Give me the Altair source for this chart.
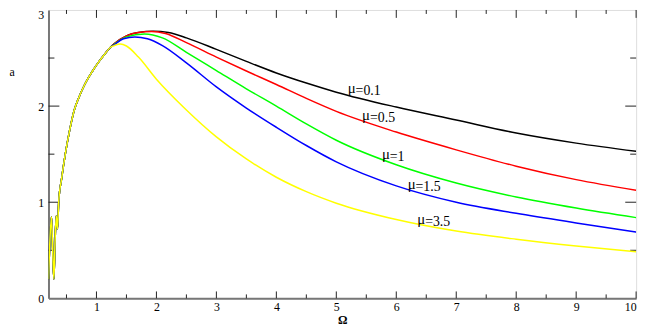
import altair as alt
import pandas as pd

# ---- data ----
rise_x = [0.20, 0.22, 0.25, 0.27, 0.29, 0.31, 0.33, 0.35, 0.37, 0.42, 0.48, 0.55, 0.63, 0.70, 0.80, 0.93, 1.05, 1.15, 1.23]
rise_y = [0.20, 0.55, 0.85, 0.50, 0.20, 0.60, 0.86, 0.72, 1.00, 1.25, 1.50, 1.74, 1.96, 2.08, 2.22, 2.36, 2.47, 2.55, 2.61]

black_x = [1.30, 1.50, 1.70, 1.95, 2.20, 2.50, 3.00, 3.50, 4.00, 4.50, 5.00, 6.00, 7.00, 8.00, 9.00, 10.0]
black_y = [2.65, 2.73, 2.765, 2.78, 2.765, 2.71, 2.59, 2.465, 2.345, 2.24, 2.145, 1.99, 1.855, 1.72, 1.615, 1.53]

red_x = [1.30, 1.50, 1.70, 1.92, 2.15, 2.50, 3.00, 3.50, 4.00, 4.50, 5.00, 6.00, 7.00, 8.00, 9.00, 10.0]
red_y = [2.65, 2.73, 2.765, 2.775, 2.755, 2.66, 2.51, 2.365, 2.225, 2.08, 1.945, 1.73, 1.545, 1.375, 1.235, 1.125]

green_x = [1.30, 1.50, 1.80, 2.10, 2.50, 3.00, 3.50, 4.00, 4.50, 5.00, 6.00, 7.00, 8.00, 9.00, 10.0]
green_y = [2.645, 2.72, 2.75, 2.71, 2.56, 2.37, 2.18, 2.00, 1.815, 1.645, 1.39, 1.20, 1.055, 0.94, 0.84]

blue_x = [1.30, 1.45, 1.64, 1.85, 2.10, 2.50, 3.00, 3.50, 4.00, 4.50, 5.00, 6.00, 7.00, 8.00, 9.00, 10.0]
blue_y = [2.64, 2.70, 2.72, 2.70, 2.63, 2.45, 2.20, 1.98, 1.78, 1.59, 1.42, 1.17, 1.00, 0.885, 0.785, 0.69]

yellow_x = [1.30, 1.40, 1.50, 1.70, 2.00, 2.50, 3.00, 3.50, 4.00, 4.50, 5.00, 6.00, 7.00, 8.00, 9.00, 10.0]
yellow_y = [2.63, 2.645, 2.625, 2.51, 2.28, 1.96, 1.68, 1.45, 1.26, 1.11, 0.99, 0.82, 0.70, 0.615, 0.545, 0.485]

series_names = ["0.1", "0.5", "1", "1.5", "3.5"]
series_colors = ["#000000", "#ff0000", "#00ff00", "#0000ff", "#ffff00"]
series_x = [black_x, red_x, green_x, blue_x, yellow_x]
series_y = [black_y, red_y, green_y, blue_y, yellow_y]

label_x = [5.19, 5.43, 5.76, 6.19, 6.35]
label_y = [2.16, 1.88, 1.47, 1.16, 0.79]
label_text = ["=0.1", "=0.5", "=1", "=1.5", "=3.5"]

x_major = [1, 2, 3, 4, 5, 6, 7, 8, 9, 10]
x_minor = [0.5, 1.5, 2.5, 3.5, 4.5, 5.5, 6.5, 7.5, 8.5, 9.5]
y_major = [0, 1, 2, 3]
y_minor = [0.5, 1.5, 2.5]

W, H = 595, 292
FONT = "Liberation Serif"

xs = alt.Scale(domain=[0.2, 10], nice=False, zero=False)
ys = alt.Scale(domain=[0, 3], nice=False)

layers = []
for name, col, sx, sy in zip(series_names, series_colors, series_x, series_y):
    df = pd.DataFrame({"W": rise_x + sx, "a": rise_y + sy})
    layers.append(
        alt.Chart(df).mark_line(color=col, strokeWidth=1.5, interpolate="monotone", clip=True).encode(
            x=alt.X("W:Q", scale=xs,
                    axis=alt.Axis(values=x_major, format="d", tickSize=0, grid=False,
                                  domainColor="#777777", domainWidth=2,
                                  labelFont=FONT, labelFontSize=12, labelColor="#000",
                                  labelPadding=3, title="Ω", titleFont=FONT,
                                  titleFontSize=12, titleFontWeight="bold",
                                  titleBaseline="middle", titleY=21, titleColor="#000")),
            y=alt.Y("a:Q", scale=ys,
                    axis=alt.Axis(values=y_major, format="d", tickSize=0, grid=False,
                                  domainColor="#777777", domainWidth=2,
                                  labelFont=FONT, labelFontSize=12, labelColor="#000",
                                  labelPadding=5,
                                  labelBaseline=alt.ExprRef("datum.value == 3 ? 'top' : 'middle'"),
                                  title="a", titleFont=FONT,
                                  titleFontSize=12, titleFontWeight="normal",
                                  titleAngle=0, titleAlign="left", titleBaseline="middle",
                                  titleX=-40, titleY=62, titleColor="#000")),
        )
    )

lab_df = pd.DataFrame({"W": label_x, "a": label_y, "t": label_text})
mu = alt.Chart(lab_df).mark_text(text="μ", font=FONT, fontSize=15, align="left",
                                 baseline="middle", dy=-3, color="#000").encode(
    x=alt.X("W:Q", scale=xs), y=alt.Y("a:Q", scale=ys))
rest = alt.Chart(lab_df).mark_text(font=FONT, fontSize=14, align="left",
                                   baseline="middle", dx=8, color="#000").encode(
    x=alt.X("W:Q", scale=xs), y=alt.Y("a:Q", scale=ys), text="t:N")

def xt(vals, y1, y2, color="#222"):
    return alt.Chart(pd.DataFrame({"v": vals})).mark_rule(color=color, strokeWidth=1).encode(
        x=alt.X("v:Q", scale=xs), y=alt.value(y1), y2=alt.value(y2))

def yt(vals, x1, x2, color="#222"):
    return alt.Chart(pd.DataFrame({"v": vals})).mark_rule(color=color, strokeWidth=1).encode(
        y=alt.Y("v:Q", scale=ys), x=alt.value(x1), x2=alt.value(x2))

ticks = [
    xt(x_major, H, H - 7), xt(x_minor, H, H - 4),
    xt(x_major, 0, 8), xt(x_minor, 0, 4),
    yt(y_major[1:-1], 0, 11), yt(y_minor, 0, 6),
    yt(y_major[1:-1], W, W - 11), yt(y_minor, W, W - 6),
]

chart = alt.layer(*ticks, *layers, mu, rest).properties(
    width=W, height=H,
    autosize=alt.AutoSizeParams(type="none"),
    padding={"left": 41, "top": 0, "right": 10, "bottom": 27},
).configure_view(stroke="#000", strokeWidth=1).configure(background="white")

chart.save("out.html", embed_options={"renderer": "svg", "actions": False})
